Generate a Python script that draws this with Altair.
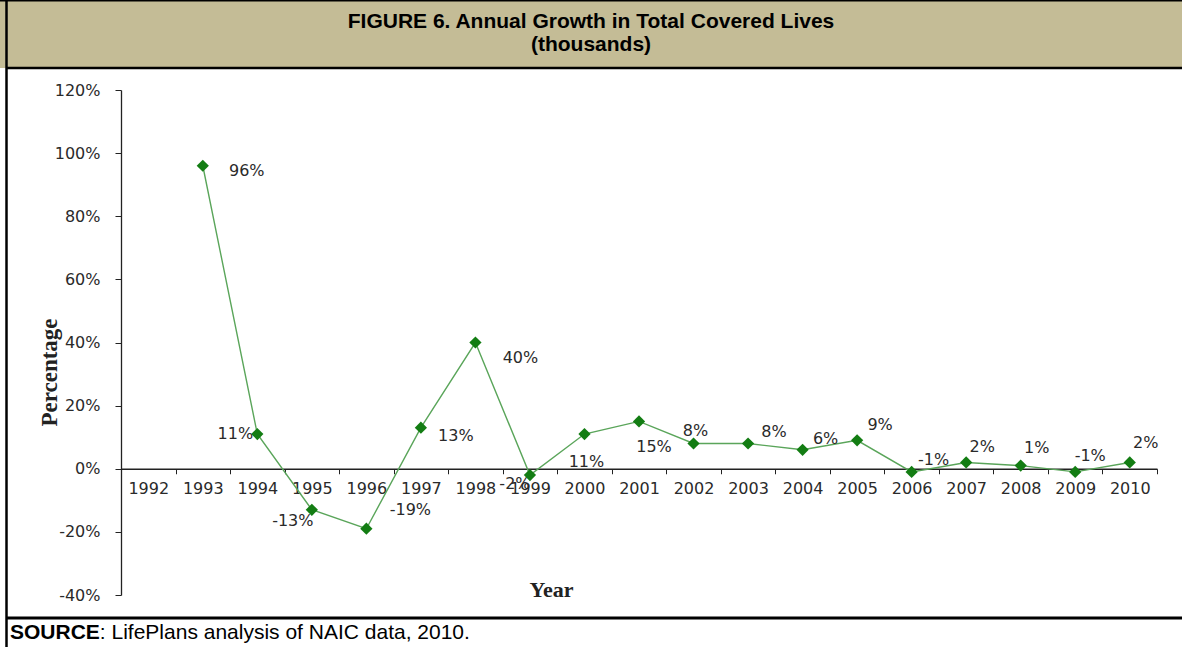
import altair as alt
import pandas as pd

# Category axis: one band per year, Excel-style
axis_years = [str(y) for y in range(1992, 2011)]

# Annual growth in total covered lives (percent)
years = [str(y) for y in range(1993, 2011)]
growth = [96, 11, -13, -19, 13, 40, -2, 11, 15, 8, 8, 6, 9, -1, 2, 1, -1, 2]

# Pixel nudges for each data label (dx, dy) relative to its point
label_dx = [44, -22, -19, 44, 35, 45, -15, 2, 15, 2, 26, 23, 23, 22, 16, 16, 15, 16]
label_dy = [5, 0, 11, -19, 8, 15, 9, 28, 26, -13, -12, -11, -15, -12, -15, -18, -16, -19]

y_ticks = [-40, -20, 0, 20, 40, 60, 80, 100, 120]
y_min, y_max = -40, 120

title_lines = ["FIGURE 6. Annual Growth in Total Covered Lives", "(thousands)"]
source_bold = "SOURCE"
source_rest = ":  LifePlans analysis of NAIC data, 2010."

# Page geometry
PAGE_W, PAGE_H = 1182, 647
PAD_L, PAD_T, PAD_R, PAD_B = 121, 90, 25, 52
W = PAGE_W - PAD_L - PAD_R
H = PAGE_H - PAD_T - PAD_B
zero_offset = -(H * (0 - y_min) / (y_max - y_min))  # move the category axis up to y = 0

LABEL_FONT = "DejaVu Sans"
TITLE_FONT = "Liberation Serif"
HEAD_FONT = "Liberation Sans"
TEXT_GREY = "#2a2a2a"

df = pd.DataFrame({"year": years, "growth": growth,
                   "label": [f"{v}%" for v in growth]})
one = pd.DataFrame({"k": [0]})

x_enc = alt.X(
    "year:O",
    scale=alt.Scale(type="band", domain=axis_years, paddingInner=0, paddingOuter=0),
    bandPosition=0.5,
    axis=alt.Axis(
        orient="bottom", offset=zero_offset, tickBand="extent", tickSize=5,
        labelAngle=0, labelPadding=7, labelFont=LABEL_FONT, labelFontSize=16,
        labelColor=TEXT_GREY, domainColor="#222222", tickColor="#222222",
        domainWidth=1.3, grid=False,
        title="Year", titleFont=TITLE_FONT, titleFontSize=22, titleFontWeight="bold",
        titleColor="#222222", titleX=430, titleY=121, titleBaseline="middle",
        titleAlign="center",
    ),
)
y_enc = alt.Y(
    "growth:Q",
    scale=alt.Scale(domain=[y_min, y_max], nice=False, zero=False),
    axis=alt.Axis(
        values=y_ticks, labelExpr="datum.value + '%'", tickSize=6, labelPadding=15,
        labelFont=LABEL_FONT, labelFontSize=16, labelColor=TEXT_GREY,
        domainColor="#222222", tickColor="#222222", domainWidth=1.3, grid=False,
        title="Percentage", titleFont=TITLE_FONT, titleFontSize=23,
        titleFontWeight="bold", titleColor="#222222", titleAngle=270,
        titleX=-72, titleY=282, titleBaseline="middle", titleAlign="center",
    ),
)

base = alt.Chart(df).encode(x=x_enc, y=y_enc)

line = base.mark_line(color="#5aa55a", strokeWidth=1.4)

labels = []
for yr, dx, dy in zip(years, label_dx, label_dy):
    labels.append(
        base.transform_filter(alt.datum.year == yr)
        .mark_text(dx=dx, dy=dy, font=LABEL_FONT, fontSize=16, color=TEXT_GREY,
                   align="center", baseline="middle")
        .encode(text="label:N")
    )

points = base.mark_point(shape="diamond", filled=True, size=150,
                         color="#137d13", opacity=1)

# Frame, header band and source line
header = alt.Chart(one).mark_rect(color="#c4bc96").encode(
    x=alt.value(-PAD_L), x2=alt.value(PAGE_W - PAD_L),
    y=alt.value(-PAD_T), y2=alt.value(68 - PAD_T))
header_rule = alt.Chart(one).mark_rule(color="black", strokeWidth=2.5).encode(
    x=alt.value(6 - PAD_L), x2=alt.value(PAGE_W - PAD_L), y=alt.value(68 - PAD_T))
top_rule = alt.Chart(one).mark_rule(color="black", strokeWidth=1.5).encode(
    x=alt.value(-PAD_L), x2=alt.value(PAGE_W - PAD_L), y=alt.value(0.75 - PAD_T))
left_rule = alt.Chart(one).mark_rule(color="black", strokeWidth=2.5).encode(
    x=alt.value(6.5 - PAD_L), y=alt.value(-PAD_T), y2=alt.value(PAGE_H - PAD_T))
bottom_rule = alt.Chart(one).mark_rule(color="black", strokeWidth=3).encode(
    x=alt.value(6 - PAD_L), x2=alt.value(PAGE_W - PAD_L), y=alt.value(618 - PAD_T))

head1 = alt.Chart(one).mark_text(font=HEAD_FONT, fontSize=21, fontWeight="bold",
                                 color="black", align="center", baseline="middle").encode(
    x=alt.value(591 - PAD_L), y=alt.value(22 - PAD_T), text=alt.value(title_lines[0]))
head2 = alt.Chart(one).mark_text(font=HEAD_FONT, fontSize=21, fontWeight="bold",
                                 color="black", align="center", baseline="middle").encode(
    x=alt.value(591 - PAD_L), y=alt.value(45 - PAD_T), text=alt.value(title_lines[1]))

src1 = alt.Chart(one).mark_text(font=HEAD_FONT, fontSize=21, fontWeight="bold",
                                color="black", align="left", baseline="alphabetic").encode(
    x=alt.value(10 - PAD_L), y=alt.value(639 - PAD_T), text=alt.value(source_bold))
src2 = alt.Chart(one).mark_text(font=HEAD_FONT, fontSize=21, color="black",
                                align="left", baseline="alphabetic").encode(
    x=alt.value(10 + 4.278 * 21 - PAD_L), y=alt.value(639 - PAD_T),
    text=alt.value(source_rest))

chart = alt.layer(
    header, header_rule, top_rule, left_rule, bottom_rule, head1, head2, src1, src2,
    line, *labels, points,
).properties(
    width=W, height=H,
    padding={"left": PAD_L, "top": PAD_T, "right": PAD_R, "bottom": PAD_B},
    autosize=alt.AutoSizeParams(type="none"),
    background="white",
).configure_view(stroke=None)

chart.save("out.html", embed_options={"renderer": "svg", "actions": False})
